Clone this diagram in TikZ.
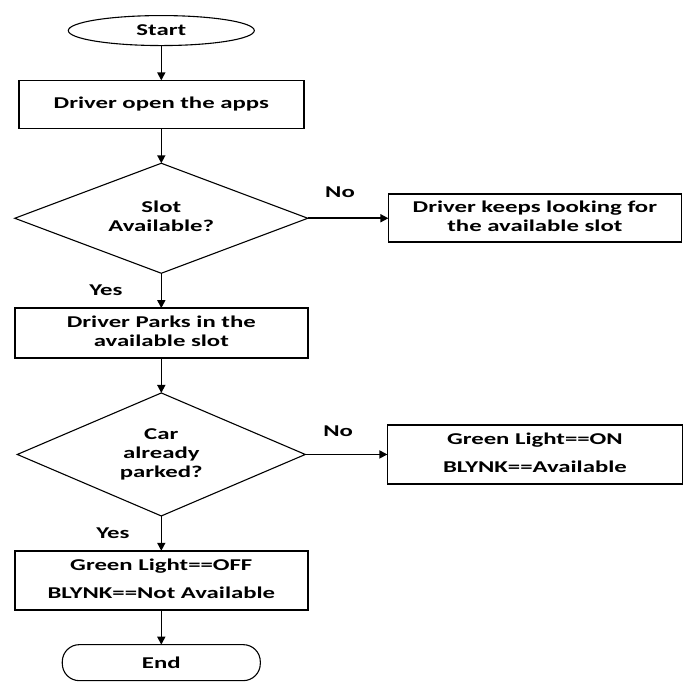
\documentclass[tikz,border=0pt]{standalone}
\usepackage{fontspec}
\setmainfont[FakeStretch=1.5]{Carlito}
\usetikzlibrary{matrix,shapes.geometric,arrows.meta}

\begin{document}
\begin{tikzpicture}[x=1pt, y=-1pt,
    procbox/.style={draw, rectangle, line width=1.6pt, minimum width=293pt, minimum height=50pt},
    decision/.style={draw, diamond, line width=1.1pt, minimum width=293pt},
    terminal/.style={draw, line width=1.1pt, minimum width=186pt, minimum height=30pt},
    flow/.style={line width=1.6pt, -{Triangle[length=8pt,width=8pt]}},
    lbl/.style={font=\fontsize{16.5}{19}\selectfont\bfseries, inner sep=0pt}]
  \useasboundingbox (0,0) rectangle (686,681);
    \matrix (chart) at (14,15) [matrix of nodes,
            ampersand replacement=\&,
            nodes={anchor=center, inner sep=0pt, outer sep=0pt,
                   font=\fontsize{16.5}{19}\selectfont\bfseries},
            inner sep=0pt, outer sep=0pt, anchor=north west,
            row sep=33.5pt, column sep=78pt] {
      |[terminal, ellipse] (start)| Start \\
      |[procbox, minimum width=285pt, minimum height=48pt] (open)| Driver open the apps \\
      |[decision, aspect=2.66, minimum height=110pt] (slot)| \begin{tabular}{@{}c@{}}Slot\\Available?\end{tabular}
         \& |[procbox, minimum height=48pt] (keep)| \begin{tabular}{@{}c@{}}Driver keeps looking for\\the available slot\end{tabular} \\
      |[procbox] (park)| \begin{tabular}{@{}c@{}}Driver Parks in the\\available slot\end{tabular} \\
      |[decision, aspect=2.34, minimum width=288pt, minimum height=123pt] (parked)| \begin{tabular}{@{}c@{}}Car\\already\\parked?\end{tabular}
         \& |[procbox, minimum width=295pt, minimum height=59pt] (on)| \begin{tabular}{@{}c@{}}Green Light==ON\\[9pt]BLYNK==Available\end{tabular} \\
      |[procbox, minimum height=59pt] (off)| \begin{tabular}{@{}c@{}}Green Light==OFF\\[9pt]BLYNK==Not Available\end{tabular} \\
      |[terminal, rounded corners=17pt, minimum width=198pt, minimum height=36pt] (end)| End \\
    };
    % connectors
    \draw[flow] (start) -- (open);
    \draw[flow] (open) -- (slot);
    \draw[flow] (slot) -- node[lbl, pos=0.4, above=20pt] (no1) {No} (keep);
    \draw[flow] (slot) -- node[lbl, left=38pt] (yes1) {Yes} (park);
    \draw[flow] (park) -- (parked);
    \draw[flow] (parked) -- node[lbl, pos=0.4, above=17pt] (no2) {No} (on);
    \draw[flow] (parked) -- node[lbl, left=31pt] (yes2) {Yes} (off);
    \draw[flow] (off) -- (end);
\end{tikzpicture}
\end{document}
